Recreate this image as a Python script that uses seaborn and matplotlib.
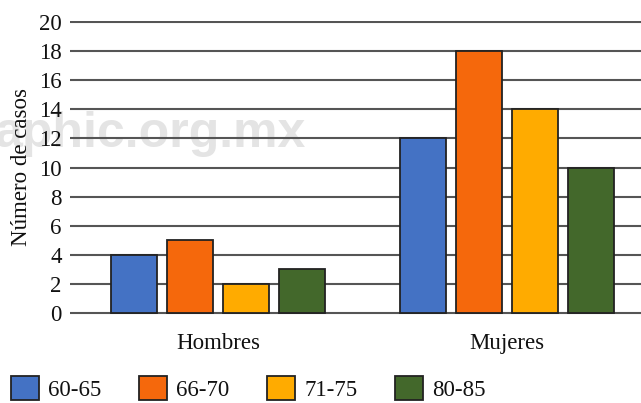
import matplotlib
matplotlib.use("Agg")
import matplotlib.pyplot as plt
import seaborn as sns
import pandas as pd

groups = ["Hombres", "Mujeres"]
ages = ["60-65", "66-70", "71-75", "80-85"]
hombres = [4, 5, 2, 3]
mujeres = [12, 18, 14, 10]
colors = ["#4472C4", "#F5680C", "#FFAB00", "#43682B"]
yticks = [0, 2, 4, 6, 8, 10, 12, 14, 16, 18, 20]

rows = []
for a, v in zip(ages, hombres):
    rows.append({"grupo": groups[0], "edad": a, "casos": v})
for a, v in zip(ages, mujeres):
    rows.append({"grupo": groups[1], "edad": a, "casos": v})
df = pd.DataFrame(rows)

sns.set_theme(style="white")
plt.rcParams["font.family"] = ["Liberation Serif", "DejaVu Serif"]

fig = plt.figure(figsize=(6.41, 4.03), dpi=100)
ax = fig.add_axes([70 / 641, (403 - 314.5) / 403, 571 / 641, 294 / 403])
ax.patch.set_alpha(0)

sns.barplot(data=df, x="grupo", y="casos", hue="edad", order=groups,
            hue_order=ages, palette=colors, width=0.775, gap=0.18,
            edgecolor="#222222", linewidth=1.3, saturation=1,
            ax=ax, zorder=3)

ax.set_xlim((70 - 218) / 289, (641 - 218) / 289)
ax.set_ylim(-0.1, 20.1)
ax.set_yticks(yticks)
ax.set_yticklabels([str(t) for t in yticks])
ax.yaxis.grid(True, color="#555555", linewidth=1.5, zorder=0)
ax.set_axisbelow(True)
for s in ax.spines.values():
    s.set_visible(False)
ax.tick_params(axis="y", length=0, pad=6, labelsize=16.5, colors="#111111")
ax.tick_params(axis="x", length=0, pad=13, labelsize=16.5, colors="#111111")
ax.set_xlabel("")
ax.set_ylabel("Número de casos", fontsize=16.5, color="#111111", labelpad=5)

fig.text(306 / 641, (403 - 147) / 403, "aphic.org.mx", ha="right", va="baseline",
         fontsize=36, fontweight="bold", family="Liberation Sans",
         color="#e4e4e4", zorder=-1)

handles, labels = ax.get_legend_handles_labels()
ax.legend_.remove()
fig.legend(handles, labels, loc="lower left", bbox_to_anchor=(11 / 641, 2 / 403),
           ncol=4, frameon=False, fontsize=16.5, handlelength=1.2,
           handleheight=1.25, handletextpad=0.4, columnspacing=1.67,
           borderpad=0, borderaxespad=0, labelcolor="#111111")

fig.savefig("out.png", dpi=100)
